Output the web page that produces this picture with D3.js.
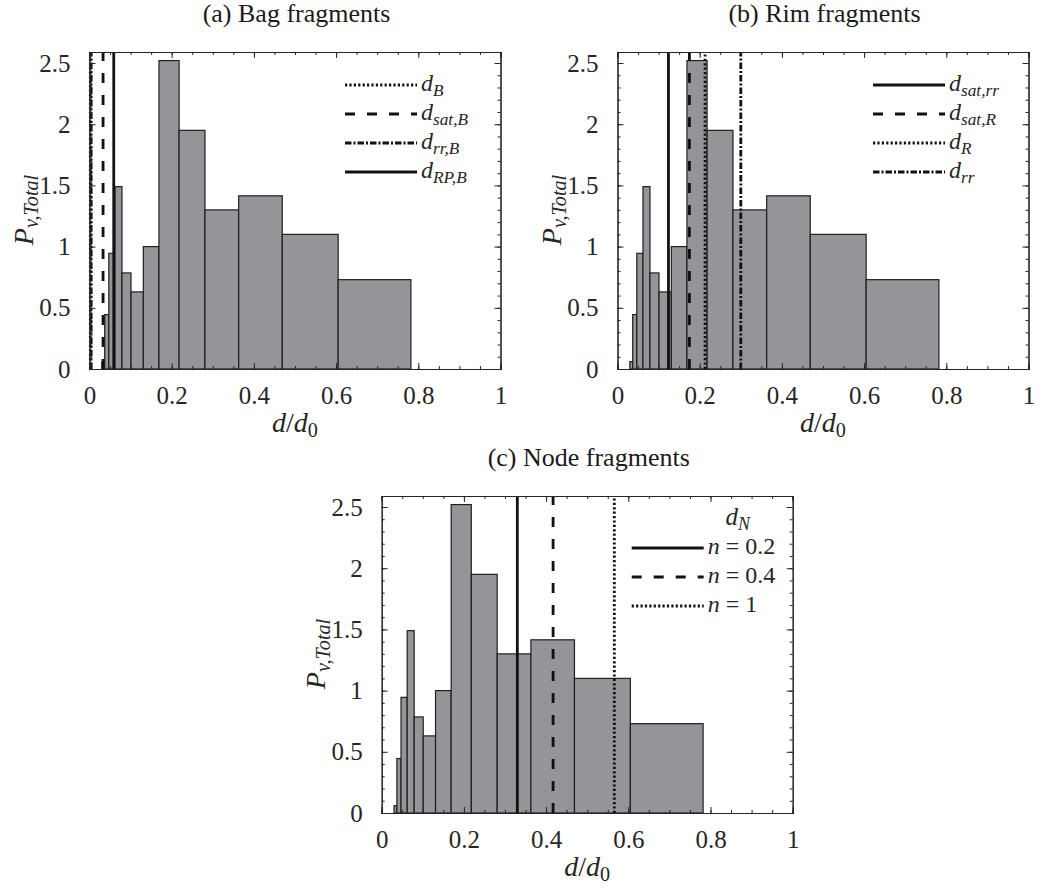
<!DOCTYPE html>
<html>
<head>
<meta charset="utf-8">
<script src="https://cdn.jsdelivr.net/npm/d3@7"></script>
<style>
  body { margin: 0; background: #fff; }
  svg text { font-family: "Liberation Serif", "Times New Roman", serif; fill: #262626; }
</style>
</head>
<body>
<svg id="chart" width="1043" height="890"></svg>
<script>
// histogram bin edges (d/d0) and probability density
var binEdges = [0.030, 0.037, 0.047, 0.062, 0.079, 0.101, 0.131, 0.169, 0.218, 0.281, 0.363, 0.469, 0.605, 0.782];
var density  = [0.06, 0.445, 0.945, 1.49, 0.785, 0.63, 1.00, 2.52, 1.95, 1.30, 1.415, 1.10, 0.73];

// characteristic diameters drawn as vertical lines
var bagLabels = ["d_B", "d_sat,B", "d_rr,B", "d_RP,B"];
var bagValues = [0.002, 0.033, 0.004, 0.059];
var bagStyles = ["dotted", "dashed", "dashdot", "solid"];

var rimLabels = ["d_sat,rr", "d_sat,R", "d_R", "d_rr"];
var rimValues = [0.124, 0.175, 0.213, 0.300];
var rimStyles = ["solid", "dashed", "dotted", "dashdot"];

var nodeLabels = ["n = 0.2", "n = 0.4", "n = 1"];
var nodeValues = [0.330, 0.417, 0.566];
var nodeStyles = ["solid", "dashed", "dotted"];

var xTicks = [0, 0.2, 0.4, 0.6, 0.8, 1];
var yTicks = [0, 0.5, 1, 1.5, 2, 2.5];

var dashes = {
    solid: null,
    dashed: "10,12",
    dotted: "2.2,2.2",
    dashdot: "6.5,2,2,2"
};

var serif = "'Liberation Serif', 'Times New Roman', serif";
var svg = d3.select("#chart");

// write "d_sub" style math label: italic base with smaller subscript
function mathText(sel, base, sub, subItalic) {
    sel.append("tspan").style("font-style", "italic").text(base);
    if (sub) {
        sel.append("tspan")
            .attr("dy", 5)
            .style("font-size", "0.72em")
            .style("font-style", subItalic === false ? "normal" : "italic")
            .text(sub);
    }
}

function drawPanel(p) {
    var x = d3.scaleLinear().domain([0, 1]).range([p.left, p.left + 411]);
    var y = d3.scaleLinear().domain([0, 2.59]).range([p.top + 317, p.top]);
    var g = svg.append("g");

    // bars
    var bins = density.map(function(v, i) { return {x0: binEdges[i], x1: binEdges[i + 1], v: v}; });
    g.selectAll("rect.bar")
        .data(bins)
        .enter().append("rect")
        .attr("class", "bar")
        .attr("x", function(d) { return x(d.x0); })
        .attr("y", function(d) { return y(d.v); })
        .attr("width", function(d) { return x(d.x1) - x(d.x0); })
        .attr("height", function(d) { return y(0) - y(d.v); })
        .attr("fill", "#939598")
        .attr("stroke", "#1f1f1f")
        .attr("stroke-width", 1.2);

    // vertical lines
    p.values.forEach(function(v, i) {
        g.append("line")
            .attr("x1", x(v)).attr("x2", x(v))
            .attr("y1", y(0)).attr("y2", y.range()[1])
            .attr("stroke", "#111")
            .attr("stroke-width", 2.8)
            .attr("stroke-dasharray", dashes[p.styles[i]]);
    });

    // axes: box with ticks inside on all sides
    var minorX = d3.range(0, 1.0001, 0.05);
    var minorY = d3.range(0, 2.59, 0.1);
    var axisCol = "#262626";

    g.append("g").attr("transform", "translate(0," + y(0) + ")")
        .call(d3.axisBottom(x).tickValues(minorX).tickSize(-3).tickFormat(""));
    g.append("g").attr("transform", "translate(0," + y(0) + ")")
        .call(d3.axisBottom(x).tickValues(xTicks).tickSize(-6).tickPadding(17).tickFormat(d3.format("")));
    g.append("g").attr("transform", "translate(0," + p.top + ")")
        .call(d3.axisTop(x).tickValues(minorX).tickSize(-3).tickFormat(""));
    g.append("g").attr("transform", "translate(0," + p.top + ")")
        .call(d3.axisTop(x).tickValues(xTicks).tickSize(-6).tickFormat(""));
    g.append("g").attr("transform", "translate(" + p.left + ",0)")
        .call(d3.axisLeft(y).tickValues(minorY).tickSize(-3).tickFormat(""));
    g.append("g").attr("transform", "translate(" + p.left + ",0)")
        .call(d3.axisLeft(y).tickValues(yTicks).tickSize(-6).tickPadding(19).tickFormat(d3.format("")));
    g.append("g").attr("transform", "translate(" + (p.left + 411) + ",0)")
        .call(d3.axisRight(y).tickValues(minorY).tickSize(-3).tickFormat(""));
    g.append("g").attr("transform", "translate(" + (p.left + 411) + ",0)")
        .call(d3.axisRight(y).tickValues(yTicks).tickSize(-6).tickFormat(""));

    g.selectAll("g").attr("font-family", serif);
    g.selectAll(".domain").attr("stroke", axisCol).attr("stroke-width", 1.1);
    g.selectAll(".tick line").attr("stroke", axisCol).attr("stroke-width", 1);
    g.selectAll(".tick text")
        .attr("font-family", serif)
        .style("font-size", "25px")
        .attr("fill", axisCol);

    // title
    svg.append("text")
        .attr("x", p.left + 207)
        .attr("y", p.top - 30)
        .attr("text-anchor", "middle")
        .style("font-size", "26px")
        .style("fill", "#1a1a1a")
        .text(p.title);

    // x label d/d0
    var xl = svg.append("text")
        .attr("x", p.left + 205.5)
        .attr("y", p.top + 380)
        .attr("text-anchor", "middle")
        .style("font-size", "28px");
    xl.append("tspan").style("font-style", "italic").text("d");
    xl.append("tspan").text("/");
    mathText(xl, "d", "0", false);

    // y label P_{v,Total}
    var yl = svg.append("text")
        .attr("transform", "translate(" + (p.left - 57) + "," + (p.top + 158) + ") rotate(-90)")
        .attr("text-anchor", "middle")
        .style("font-size", "28px");
    mathText(yl, "P", "v,Total");

    // legend
    var lx = p.left + p.legendDx;
    if (p.legendTitle) {
        var lt = svg.append("text")
            .attr("x", lx + 106)
            .attr("y", p.top + 29)
            .attr("text-anchor", "middle")
            .style("font-size", "25px");
        mathText(lt, "d", "N");
    }
    p.labels.forEach(function(lab, i) {
        var ly = p.top + p.legendTop + i * p.legendStep;
        svg.append("line")
            .attr("x1", lx).attr("x2", lx + 72)
            .attr("y1", ly).attr("y2", ly)
            .attr("stroke", "#111")
            .attr("stroke-width", 2.8)
            .attr("stroke-dasharray", dashes[p.styles[i]]);
        var t = svg.append("text")
            .attr("x", lx + 76)
            .attr("y", ly + 6)
            .style("font-size", "24px");
        if (lab.indexOf("_") >= 0) {
            var parts = lab.split("_");
            mathText(t, parts[0], parts[1]);
        } else {
            var s = lab.split(" = ");
            t.append("tspan").style("font-style", "italic").text(s[0]);
            t.append("tspan").text(" = " + s[1]);
        }
    });
}

drawPanel({left: 89.5, top: 52, title: "(a) Bag fragments",
    values: bagValues, styles: bagStyles, labels: bagLabels,
    legendDx: 255.5, legendTop: 33, legendStep: 29});
drawPanel({left: 617.5, top: 52, title: "(b) Rim fragments",
    values: rimValues, styles: rimStyles, labels: rimLabels,
    legendDx: 255.5, legendTop: 33, legendStep: 29});
drawPanel({left: 381.7, top: 496, title: "(c) Node fragments",
    values: nodeValues, styles: nodeStyles, labels: nodeLabels,
    legendDx: 250, legendTop: 52, legendStep: 29, legendTitle: true});
</script>
</body>
</html>
